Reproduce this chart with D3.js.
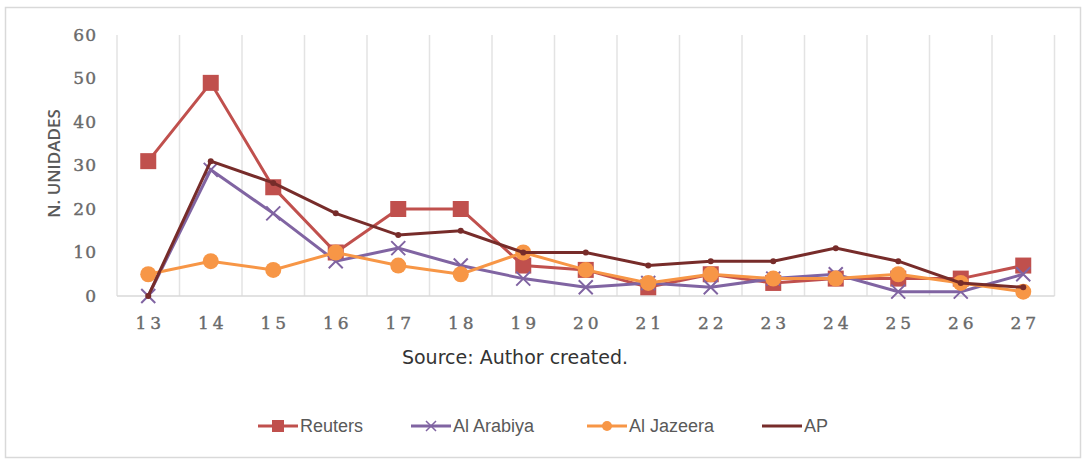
<!DOCTYPE html>
<html>
<head>
<meta charset="utf-8">
<script src="https://cdn.jsdelivr.net/npm/d3@7"></script>
<style>
  body { margin: 0; background: #fff; }
  svg { display: block; }
</style>
</head>
<body>
<svg></svg>
<script>
var width = 1086;
var height = 460;

// data
var categories = ['13', '14', '15', '16', '17', '18', '19', '20', '21', '22', '23', '24', '25', '26', '27'];
var reuters   = [31, 49, 25, 10, 20, 20, 7, 6, 2, 5, 3, 4, 4, 4, 7];
var alArabiya = [0, 29, 19, 8, 11, 7, 4, 2, 3, 2, 4, 5, 1, 1, 5];
var alJazeera = [5, 8, 6, 10, 7, 5, 10, 6, 3, 5, 4, 4, 5, 3, 1];
var ap        = [0, 31, 26, 19, 14, 15, 10, 10, 7, 8, 8, 11, 8, 3, 2];
var yTicks = [0, 10, 20, 30, 40, 50, 60];

var series = [
  {name: 'Reuters', values: reuters, color: '#C0504D', marker: 'square'},
  {name: 'Al Arabiya', values: alArabiya, color: '#8064A2', marker: 'cross'},
  {name: 'Al Jazeera', values: alJazeera, color: '#F79646', marker: 'circle'},
  {name: 'AP', values: ap, color: '#772C2A', marker: 'dot'}
];

var svg = d3.select('svg')
  .attr('width', width)
  .attr('height', height);

// outer frame
svg.append('rect')
  .attr('x', 5.5).attr('y', 7.5)
  .attr('width', 1075).attr('height', 450)
  .attr('fill', 'none')
  .attr('stroke', '#d9d9d9')
  .attr('stroke-width', 1.5);

var xScale = d3.scaleBand()
  .domain(categories)
  .range([117, 1054.5]);

var yScale = d3.scaleLinear()
  .domain([0, 60])
  .range([296, 35]);

// vertical gridlines at category boundaries
var bounds = categories.map(c => xScale(c)).concat([xScale.range()[1]]);
svg.append('g')
  .selectAll('line')
  .data(bounds)
  .enter().append('line')
    .attr('x1', d => d).attr('x2', d => d)
    .attr('y1', yScale(60)).attr('y2', yScale(0))
    .attr('stroke', '#e3e3e3')
    .attr('stroke-width', 1.5);

// baseline
svg.append('line')
  .attr('x1', 117).attr('x2', 1054.5)
  .attr('y1', yScale(0)).attr('y2', yScale(0))
  .attr('stroke', '#d9d9d9')
  .attr('stroke-width', 1.5);

// y tick labels
svg.append('g')
  .selectAll('text')
  .data(yTicks)
  .enter().append('text')
    .attr('x', 97)
    .attr('y', d => yScale(d))
    .attr('dy', '0.35em')
    .attr('text-anchor', 'end')
    .style('font-family', 'DejaVu Serif')
    .style('font-size', '17px')
    .style('letter-spacing', '1px')
    .style('stroke', '#6a6a6a')
    .style('stroke-width', '0.4px')
    .style('fill', '#6a6a6a')
    .text(d => d);

// x tick labels
svg.append('g')
  .selectAll('text')
  .data(categories)
  .enter().append('text')
    .attr('x', d => xScale(d) + xScale.bandwidth() / 2 + 2)
    .attr('y', 329)
    .attr('text-anchor', 'middle')
    .style('font-family', 'DejaVu Serif')
    .style('font-size', '17px')
    .style('letter-spacing', '4px')
    .style('stroke', '#6a6a6a')
    .style('stroke-width', '0.4px')
    .style('fill', '#6a6a6a')
    .text(d => d);

// y axis label
svg.append('text')
  .attr('transform', 'rotate(-90)')
  .attr('x', -yScale(30) + 2)
  .attr('y', 60)
  .attr('text-anchor', 'middle')
  .style('font-family', 'Open Sans')
  .style('font-size', '17px')
  .style('font-weight', '600')
  .style('fill', '#595959')
  .text('N. UNIDADES');

var line = d3.line()
  .x((d, i) => xScale(categories[i]) + xScale.bandwidth() / 2)
  .y(d => yScale(d));

function drawMarker(g, type, color, x, y) {
  if (type === 'square') {
    g.append('rect').attr('x', x - 8).attr('y', y - 8)
      .attr('width', 16).attr('height', 16).attr('fill', color);
  } else if (type === 'circle') {
    g.append('circle').attr('cx', x).attr('cy', y).attr('r', 8).attr('fill', color);
  } else if (type === 'cross') {
    g.append('path')
      .attr('d', 'M' + (x - 7) + ',' + (y - 7) + 'L' + (x + 7) + ',' + (y + 7) +
                 'M' + (x + 7) + ',' + (y - 7) + 'L' + (x - 7) + ',' + (y + 7))
      .attr('stroke', color).attr('stroke-width', 2).attr('fill', 'none');
  } else if (type === 'dot') {
    g.append('circle').attr('cx', x).attr('cy', y).attr('r', 3).attr('fill', color);
  }
}

series.forEach(function(s) {
  var g = svg.append('g');
  g.append('path')
    .datum(s.values)
    .attr('d', line)
    .attr('fill', 'none')
    .attr('stroke', s.color)
    .attr('stroke-width', 3);
  s.values.forEach(function(v, i) {
    drawMarker(g, s.marker, s.color, xScale(categories[i]) + xScale.bandwidth() / 2, yScale(v));
  });
});

// source note
svg.append('text')
  .attr('x', 515)
  .attr('y', 364)
  .attr('text-anchor', 'middle')
  .style('font-family', 'DejaVu Sans')
  .style('font-size', '19px')
  .style('fill', '#333')
  .text('Source: Author created.');

// legend
var legendX = [258, 411, 587, 762];
var legend = svg.append('g');
series.forEach(function(s, i) {
  var x0 = legendX[i];
  var y0 = 426;
  legend.append('line')
    .attr('x1', x0).attr('x2', x0 + 40)
    .attr('y1', y0).attr('y2', y0)
    .attr('stroke', s.color).attr('stroke-width', 3);
  if (s.marker !== 'dot') {
    var m = legend.append('g');
    if (s.marker === 'square') {
      m.append('rect').attr('x', x0 + 14).attr('y', y0 - 6).attr('width', 12).attr('height', 12).attr('fill', s.color);
    } else if (s.marker === 'circle') {
      m.append('circle').attr('cx', x0 + 20).attr('cy', y0).attr('r', 5).attr('fill', s.color);
    } else {
      m.append('path')
        .attr('d', 'M' + (x0 + 15) + ',' + (y0 - 5) + 'L' + (x0 + 25) + ',' + (y0 + 5) +
                   'M' + (x0 + 25) + ',' + (y0 - 5) + 'L' + (x0 + 15) + ',' + (y0 + 5))
        .attr('stroke', s.color).attr('stroke-width', 1.5);
    }
  }
  legend.append('text')
    .attr('x', x0 + 42)
    .attr('y', y0)
    .attr('dy', '0.35em')
    .style('font-family', 'Liberation Sans Narrow, Liberation Sans')
    .style('font-size', '18px')
    .style('fill', '#595959')
    .text(s.name);
});
</script>
</body>
</html>
